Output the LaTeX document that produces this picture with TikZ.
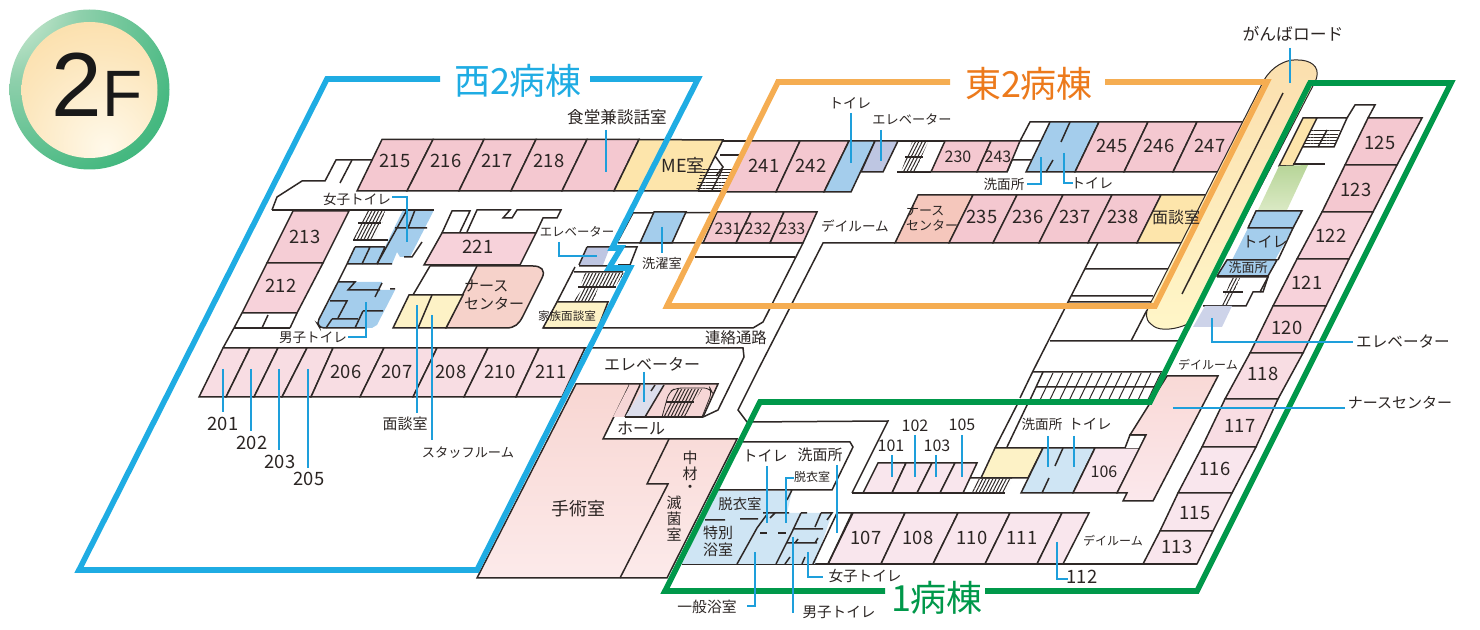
\documentclass[tikz,border=0pt]{standalone}
\usepackage{fontspec}
\setmainfont{Noto Sans CJK JP}
\newfontfamily\bdgf{Liberation Sans}
\usetikzlibrary{patterns.meta}
\definecolor{txt}{HTML}{2B2523}
\definecolor{linec}{HTML}{2E2826}
\definecolor{wblue}{HTML}{1FACE3}
\definecolor{lead}{HTML}{1E9FDB}
\definecolor{orangef}{HTML}{F5AD52}
\definecolor{oranget}{HTML}{EC7A1C}
\definecolor{greenf}{HTML}{00984A}
\definecolor{pinkA}{HTML}{F4C8D0}
\definecolor{pinkB}{HTML}{F7D2DA}
\definecolor{pinkC}{HTML}{F8DDE3}
\definecolor{pinkD}{HTML}{F9E6ED}
\definecolor{yel}{HTML}{FDE5AB}
\definecolor{yelL}{HTML}{FDF2C6}
\definecolor{blue}{HTML}{A4CDEC}
\definecolor{blueL}{HTML}{CFE5F4}
\definecolor{purp}{HTML}{BEC6E2}
\definecolor{purpL}{HTML}{DCDEEC}
\definecolor{nurseW}{HTML}{F6D2CA}
\definecolor{nurseE}{HTML}{F5C7BC}
\definecolor{surgA}{HTML}{F8D6D2}
\definecolor{surgB}{HTML}{FCEAEA}
\definecolor{nOneA}{HTML}{F9D9D6}
\definecolor{nOneB}{HTML}{FBE8EC}
\definecolor{stairP}{HTML}{F6D6D6}
\definecolor{grA}{HTML}{B7D598}
\definecolor{grB}{HTML}{DAE9C4}
\definecolor{elevL}{HTML}{CDD3E9}
\definecolor{roadA}{HTML}{FBDFAE}
\definecolor{roadB}{HTML}{FFF6C8}
\definecolor{bOutA}{HTML}{EEF7E6}
\definecolor{bOutB}{HTML}{8FD0AC}
\definecolor{bOutC}{HTML}{45B880}
\definecolor{bOutD}{HTML}{00A65C}
\definecolor{bInA}{HTML}{FFF9EA}
\definecolor{bInB}{HTML}{FCE6BC}
\definecolor{bInC}{HTML}{FAD592}
\pgfdeclareradialshading{badgeout}{\pgfpoint{-30bp}{30bp}}{color(0bp)=(bOutA);color(22bp)=(bOutB);color(50bp)=(bOutC);color(95bp)=(bOutD);color(140bp)=(bOutD)}
\pgfdeclareradialshading{badgein}{\pgfpoint{6bp}{-22bp}}{color(0bp)=(bInA);color(30bp)=(bInB);color(62bp)=(bInC);color(120bp)=(bInC)}
\tikzset{
  lb/.style={inner sep=0pt,text=txt,font=\fontsize{#1}{#1}\selectfont},
  num/.style={lb=9.2},
  rm/.style={draw=linec,line width=.75pt,line join=miter},
  ln/.style={draw=linec,line width=.75pt},
  ld/.style={draw=lead,line width=.65pt},
  frame/.style={line width=2.8pt,line join=miter},
  hatchv/.style={draw=none,pattern={Lines[angle=63,distance=1.5pt,line width=.5pt]},pattern color=linec},
  hatchh/.style={draw=none,pattern={Lines[angle=0,distance=1.6pt,line width=.45pt]},pattern color=linec},
}
\begin{document}
\begin{tikzpicture}[x=.5pt,y=-.5pt]
\useasboundingbox (0,0) rectangle (1480,630);
% ---- badge
\shade[shading=badgeout] (89.5,89.5) circle (80);
\shade[shading=badgein] (89.5,90) circle (68);
\node[inner sep=0pt,text=black!90,font=\bdgf\fontsize{45.5}{45.5}\selectfont] (badge2) at (77,85) {2};
\node[inner sep=0pt,text=black!90,font=\bdgf\fontsize{32.8}{32.8}\selectfont] (badgeF) at (122.5,93.5) {F};
% ---- west wing outline
\draw[ln,line join=miter] (223,348)--(234,328);
\draw[ln] (272,210)--(277,197)--(302,181)--(325,181)--(336,160)--(372,160);
\draw[ln] (352,160)--(340,183);
\draw[ln] (272,210)--(403,210);
\draw[ln] (223,348)--(743,348)--(744,357)--(718,410)--(703,417)--(625,417);
\draw[ln] (234,328)--(290,328);
\draw[ln] (268,315)--(262,328);
\draw[ln] (242,313)--(234,328) (297,313)--(290,328);
% upper row
\foreach \a/\b/\c/\d in {382/433/407/357,433/484/459/407,484/536/511/459,536/587/562/511,587/639/614/562}
  \draw[rm,fill=pinkA] (\a,139.5)--(\b,139.5)--(\c,191)--(\d,191)--cycle;
\draw[rm,fill=yel] (639,139.5)--(723,140)--(698,191)--(614,191)--cycle;
% left column
\draw[rm,fill=pinkA!75!pinkC] (293,211)--(349,211)--(323,263)--(267,263)--cycle;
\draw[rm,fill=pinkB] (267,263)--(323,263)--(297,313)--(242,313)--cycle;
% lower row
\foreach \a/\b/\c/\d in {223/250/226/199,250/278/254/226,278/307/282/254,307/333/311/282,333/384/360/311,384/437/413/360,437/488/464/413,488/539/516/464,539/585/562/516}
  \draw[rm,fill=pinkC] (\a,348)--(\b,348)--(\c,397)--(\d,397)--cycle;
% women's toilet block
\path[fill=blue] (403,210)--(434,210)--(410,257)--(400,257)--(397,252)--(392,264)--(347,264)--(355,247)--(385,247)--cycle;
\path[hatchv] (367,211)--(385,211)--(382,223)--(360,223)--cycle;
\path[hatchv] (360,224)--(381,224)--(373,240)--(353,240)--cycle;
\draw[ln] (358,223)--(381,223) (353,240)--(388,240);
\draw[ln] (403,210)--(434,210);
\draw[ln] (407,210)--(377,264);
\draw[ln] (415,210)--(408,228) (395,228)--(427,228) (422,242)--(412,257)--(404,257);
\draw[ln] (355,247)--(385,247) (370,247)--(362,264) (385,247)--(377,264);
\draw[ln] (347,264)--(392,264) (347,264)--(355,247) (347,264)--(338,282);
% men's toilet block
\path[fill=blue] (338,282)--(382,282)--(378,290)--(395,290)--(377,325)--(372,328)--(320,328)--(317,323)--cycle;
\draw[ln] (338,282)--(355,282)--(348,290)--(380,290) (382,283)--(375,297) (390,289)--(395,289);
\draw[ln] (330,301)--(347,301)--(338,318) (332,319)--(358,319);
\draw[ln] (332,319)--(326,328);
\draw[ln] (363,311)--(383,311) (363,311)--(355,328);
\draw[ln,rounded corners=2pt] (338,282)--(317,323)--(320,328)--(365,328);
% centre block
\draw[ln] (442,233)--(452,211)--(470,211)--(460,232);
\draw[ln] (467,232)--(477,210)--(510,210)--(503,218)--(512,218)--(517,210)--(561,210)--(557,218)--(543,218)--(536,233);
\draw[rm,fill=pinkB] (442,233)--(536,233)--(520,265)--(424,265)--cycle;
\draw[rm,fill=nurseW] (477,266)--(533,266) .. controls (541,266) and (546,270) .. (542,278) -- (523,316) .. controls (519,324) and (515,328) .. (506,328)--(446,328)--cycle;
\draw[ln] (430,266)--(477,266) (430,266)--(413,295);
\draw[rm,fill=yelL] (409,295)--(463,295)--(446,328)--(393,328)--cycle;
\draw[ln] (432,295)--(418,328);
% west elevator, stairs, family room
\path[fill=purp] (587,247)--(610,247)--(603,265)--(579,265)--cycle;
\draw[ln] (587,247)--(637,247)--(630,265)--(618,265) (579,265)--(587,247);
\draw[ln] (579,266)--(632,266) (575,267)--(557,302) (574,272)--(623,272);
\path[hatchv] (585,273)--(624,273)--(615,287)--(580,287)--cycle;
\path[hatchv] (583,288)--(598,288)--(593,302)--(573,302)--cycle;
\draw[ln] (578,287)--(616,287);
\draw[rm,fill=yelL] (557,302)--(608,302)--(598,328)--(543,328)--cycle;
\draw[ln] (543,328)--(753,328)--(763,322)--(803,243);
\draw[ln] (618,241)--(633,213)--(817,212) (618,243)--(803,243);
\draw[rm,fill=blue] (654,212)--(686,212)--(672,243)--(640,243)--cycle;
\foreach \a/\b/\c/\d in {717/751/736/703,751/784/770/736,784/817/803/770}
  \draw[rm,fill=pinkA] (\a,212)--(\b,212)--(\c,243)--(\d,243)--cycle;
\draw[ln] (695,257)--(795,257);
% ---- east wing rooms
\draw[ln] (723,141)--(753,141) (720,155)--(742,155) (698,191)--(730,191);
\draw[ln] (715,156)--(723,167)--(716,176);
\path[hatchh] (702,168)--(733,168)--(722,190)--(696,190)--cycle;
\draw[ln] (722,170)--(712,190);
\foreach \a/\b/\c/\d in {750/800/776/725,800/849/824/776}
  \draw[rm,fill=pinkA] (\a,141)--(\b,141)--(\c,192)--(\d,192)--cycle;
\draw[rm,fill=blue] (849,141)--(875,141)--(851,192)--(824,192)--cycle;
\draw[rm,fill=purp] (875,141)--(898,141)--(883,172)--(861,172)--cycle;
\draw[ln] (898,141)--(945,141) (897,172)--(931,172);
\path[hatchv] (912,142)--(928,142)--(915,172)--(901,172)--cycle;
\draw[ln] (905,157)--(923,157);
\foreach \a/\b/\c/\d in {945/991/977/931,991/1020/1007/977}
  \draw[rm,fill=pinkA] (\a,141)--(\b,141)--(\c,172)--(\d,172)--cycle;
\draw[ln] (1020,141)--(1041,141) (1012,160)--(1033,160) (1020,141)--(1030,122)--(1050,122) (1007,172)--(1012,160);
\draw[rm,fill=blue] (1050,122)--(1099,122)--(1075,172)--(1026,172)--cycle;
\draw[ln] (1070,122)--(1061,142) (1053,160)--(1046,172);
\foreach \a/\b/\c/\d in {1099/1148/1124/1075,1148/1197/1173/1124,1197/1247/1220/1173}
  \draw[rm,fill=pinkA] (\a,122)--(\b,122)--(\c,172)--(\d,172)--cycle;
\draw[rm,fill=nurseE] (918,195)--(973,195)--(949,243)--(895,243)--cycle;
\foreach \a/\b/\c/\d in {973/1017/993/949,1017/1063/1039/993,1063/1112/1088/1039,1112/1161/1137/1088}
  \draw[rm,fill=pinkA] (\a,195)--(\b,195)--(\c,243)--(\d,243)--cycle;
\draw[rm,fill=yel] (1161,195)--(1210,195)--(1186,243)--(1137,243)--cycle;
\draw[ln] (758,370)--(823,243)--(895,243);
\draw[ln] (758,370)--(738,410)--(747,422)--(888,421)--(852,493);
% lobby structure to the east
\draw[ln] (1098,243)--(1033,371)--(1020,398) (1085,269)--(1168,269) (1072,296)--(1153,296) (1068,302)--(1153,302);
\draw[ln] (1050,341)--(1183,341) (1147,310)--(1131,341) (1033,372)--(1162,372);
\draw[ln] (1043,372)--(1030,400) (1036,387)--(1155,387);
\foreach \i in {0,...,11} \draw[ln,line width=.5pt] ({1053+\i*9.8},373)--({1040+\i*9.8},400);
\draw[ln] (1028,403)--(1007,447) (1018,403)--(995,448);
% ---- 1 wing middle rooms
\draw[rm,fill=yelL] (995,448)--(1043,448)--(1028,478)--(981,478)--cycle;
\draw[ln] (966,478)--(1012,478) (966,478)--(960,493);
\path[hatchv] (977,479)--(1012,479)--(1005,493)--(972,493)--cycle;
\draw[rm,fill=blueL] (1043,448)--(1095,448)--(1073,493)--(1021,493)--cycle;
\draw[ln] (1063,448)--(1055,466) (1049,478)--(1042,493);
\draw[rm,fill=pinkD] (1095,448)--(1140,448)--(1117,493)--(1073,493)--cycle;
\draw[rm,fill=white] (1125,448)--(1130,435)--(1146,435)--(1140,448);
\draw[rm,top color=nOneA,bottom color=nOneB] (1167,376)--(1218,376)--(1153,501)--(1123,501)--(1127,493)--(1117,493)--(1146,435)--(1130,435)--cycle;
\foreach \a/\b/\c/\d in {878/906/892/863,906/932/917/892,932/955/940/917,955/977/963/940}
  \draw[rm,fill=pinkD] (\a,463)--(\b,463)--(\c,493)--(\d,493)--cycle;
\draw[ln] (852,493)--(1005,493);
% lower row
\foreach \a/\b/\c/\d in {853/905/881/828,905/958/933/881,958/1010/985/933,1010/1062/1037/985,1062/1089/1063/1037}
  \draw[rm,fill=pinkD] (\a,513)--(\b,513)--(\c,564)--(\d,564)--cycle;
\draw[ln] (682,564)--(1197,564);
% bath area
\path[fill=blueL] (718,491)--(792,491)--(787,513)--(832,513)--(815,564)--(682,564)--cycle;
\draw[ln] (743,442)--(850,442)--(853,447)--(832,490)--(790,490)--(718,490) (792,490)--(787,500);
\draw[ln] (705,520)--(725,520) (740,519)--(758,519) (763,513)--(789,513) (775,513)--(770,518) (768,513)--(757,528)--(737,564);
\draw[ln] (760,533)--(767,533) (778,533)--(786,533);
\draw[ln] (801,513)--(792,532)--(776,564) (801,513)--(807,513) (793,529)--(823,529) (821,513)--(815,527) (821,513)--(832,513)--(827,520);
\draw[ln] (787,543)--(817,543) (818,538)--(815,543) (798,539)--(795,543) (790,557)--(785,564) (805,557)--(802,564);
\draw[ln] (852,513)--(828,564) (837,513)--(813,564) (837,513)--(853,513);
% ---- surgery
\draw[rm,top color=surgA,bottom color=surgB] (576,384)--(630,384)--(603,439)--(737,439)--(667,578)--(477,578)--cycle;
\draw[ln] (669,439)--(647,484)--(668,484)--(620,578);
\path[fill=stairP] (630,384)--(718,384)--(703,417)--(613,417)--cycle;
\draw[ln] (630,384)--(718,384)--(703,417) (640,385)--(625,417);
\path[fill=purpL] (645,385)--(664,385)--(645,417)--(625,417)--cycle;
\draw[ln] (664,385)--(645,417) (655,385)--(651,391);
\draw[ln,rounded corners=3pt,line width=.4pt] (662,417)--(669,392)--(676,388)--(710,388)--(712,392)--(702,417);
\path[hatchv] (676,389)--(702,389)--(685,417)--(663,417)--cycle;
\draw[ln] (666,402)--(694,402);
\draw[ln] (625,417)--(703,417);
% ---- right column of wing 1
\draw[rm,fill=pinkA] (1368,118)--(1422,118)--(1397,165)--(1345,165)--cycle;
\draw[rm,fill=pinkA] (1345,165)--(1397,165)--(1373,212)--(1322,212)--cycle;
\draw[rm,fill=pinkB] (1322,212)--(1373,212)--(1349,259)--(1297,259)--cycle;
\draw[rm,fill=pinkB] (1297,259)--(1349,259)--(1326,306)--(1273,306)--cycle;
\draw[rm,fill=pinkB] (1273,306)--(1326,306)--(1303,353)--(1250,353)--cycle;
\draw[rm,fill=pinkC] (1250,353)--(1303,353)--(1278,399)--(1225,399)--cycle;
\draw[rm,fill=pinkC] (1225,399)--(1278,399)--(1256,447)--(1202,447)--cycle;
\draw[rm,fill=pinkD] (1202,447)--(1256,447)--(1232,493)--(1178,493)--cycle;
\draw[rm,fill=pinkD] (1178,493)--(1232,493)--(1213,531)--(1160,531)--cycle;
\draw[rm,fill=pinkD] (1160,531)--(1213,531)--(1197,564)--(1143,564)--cycle;
% service core of wing 1
\draw[ln] (1347,118)--(1355,105)--(1375,105)--(1368,118);
\draw[ln] (1317,118)--(1347,118)--(1334,147)--(1303,147);
\path[hatchh] (1306,130)--(1340,130)--(1334,147)--(1302,147)--cycle;
\draw[ln] (1327,130)--(1318,147);
\draw[rm,fill=yel] (1303,118)--(1317,118)--(1293,166)--(1279,166)--cycle;
\draw[ln] (1293,164)--(1325,164);
\path[top color=grA,bottom color=grB] (1279,166)--(1308,165)--(1287,210)--(1258,210)--cycle;
\draw[rm,fill=blue] (1256,211)--(1302,211)--(1293,228)--(1248,228)--cycle;
\path[fill=blue] (1248,228)--(1293,228)--(1275,260)--(1232,260)--cycle;
\draw[ln] (1248,228)--(1293,228)--(1278,260);
\draw[rm,fill=blue] (1227,260)--(1277,260)--(1268,276)--(1217,276)--cycle;
\draw[ln] (1217,277)--(1268,277)--(1263,292)--(1253,292)--(1246,306)--(1203,306);
\draw[ln] (1268,277)--(1260,292);
\path[hatchv] (1232,278)--(1240,278)--(1228,305)--(1221,305)--cycle;
\draw[ln] (1223,292)--(1243,292);
\path[fill=elevL] (1205,306)--(1232,306)--(1222,327)--(1193,327)--cycle;
% ---- gambaroad
\draw[line width=.5pt,draw=linec,top color=roadA,bottom color=roadB,rounded corners=1pt] (1263,82) .. controls (1272,66) and (1286,60) .. (1296,60) .. controls (1310,60) and (1320,66) .. (1316,80) -- (1190,323) .. controls (1175,330) and (1160,331) .. (1152,325) .. controls (1145,319) and (1146,312) .. (1149,306) -- cycle;
\draw[ln] (1283,93)--(1182,294);
% ---- frames
\draw[frame,draw=wblue] (440,79)--(327,79)--(79,570)--(477,570)--(630,268)--(609,268)--(621,248)--(612,248)--(698,79)--(590,79);
\draw[frame,draw=orangef] (950,82)--(778,82)--(667,306)--(1155,306)--(1267,82)--(1105,82);
\draw[frame,draw=greenf] (885,591)--(665,591)--(760,402)--(1150,402)--(1310,83)--(1451,83)--(1197,591)--(985,591);
% ---- leaders
\draw[ld] (606,130)--(606,172);
\draw[ld] (392,197)--(407,197)--(407,242);
\draw[ld] (348,337)--(366,337)--(366,302);
\draw[ld] (223,369)--(223,412) (251,369)--(251,431) (279,369)--(279,450) (308,369)--(308,468);
\draw[ld] (417,305)--(417,413) (432,315)--(432,440);
\draw[ld] (559,242)--(559,256)--(597,256);
\draw[ld] (662,227)--(662,253);
\draw[ld] (851,113)--(851,163);
\draw[ld] (881,130)--(881,161);
\draw[ld] (1027,184)--(1041,184)--(1041,157);
\draw[ld] (1064,153)--(1064,183)--(1073,183);
\draw[ld] (1290,48)--(1290,83);
\draw[ld] (1212,318)--(1212,342)--(1353,342);
\draw[ld] (1173,408)--(1345,408);
\draw[ld] (892,455)--(892,477) (915,435)--(915,477) (936,455)--(936,477) (962,435)--(962,477);
\draw[ld] (1048,436)--(1048,467) (1074,436)--(1074,467);
\draw[ld] (1057,542)--(1057,579)--(1068,579);
\draw[ld] (644,372)--(644,402);
\draw[ld] (767,466)--(767,523);
\draw[ld] (794,478)--(786,478)--(786,523);
\draw[ld] (837,465)--(837,533);
\draw[ld] (747,606)--(755,606)--(755,552);
\draw[ld] (793,537)--(793,613);
\draw[ld] (808,552)--(808,577)--(823,577);
% ---- titles
\node[inner sep=0pt,text=wblue,font=\fontsize{18}{18}\selectfont] (west) at (518,81) {西2病棟};
\node[inner sep=0pt,text=oranget,font=\fontsize{18}{18}\selectfont] (east) at (1029,84) {東2病棟};
\node[inner sep=0pt,text=greenf,font=\fontsize{18}{18}\selectfont] (one) at (937,598) {1病棟};
% ---- room numbers
\foreach \n/\x/\y in {215/395/161,216/446/161,217/497/161,218/549/161,241/764/166,242/811/166,235/982/217,236/1028/217,237/1075/217,238/1123/217,245/1112/146,246/1159/146,247/1210/146,213/305/237,212/281/286,221/478/247,206/346/372,207/397/372,208/451/372,210/500/372,211/551/372,125/1380/143,123/1356/190,122/1331/236,121/1307/283,120/1287/328,118/1263/374,117/1240/426,116/1215/469,115/1195/513,113/1177/547,107/866/538,108/918/538,110/972/538,111/1022/538,112/1082/577,201/223/424,202/252/443,203/280/462,205/309/479}
  \node[num] (r\n) at (\x,\y) {\n};
\foreach \n/\x/\y in {230/958/157,243/998/157,231/728/229,232/758/229,233/792/229,106/1104/472,101/891/446,102/915/426,103/937/446,105/962/425}
  \node[lb=8] (r\n) at (\x,\y) {\n};
% ---- labels
\node[lb=9] (me) at (683,165) {ME室};
\node[lb=8.3] (shokudo) at (617,117) {食堂兼談話室};
\node[lb=6.8] (wtoiletW) at (357,199) {女子トイレ};
\node[lb=6.8] (mtoiletW) at (313,338) {男子トイレ};
\node[lb=6.2] (elevW) at (577,232) {エレベーター};
\node[lb=5.8] (famroom) at (567,316) {家族面談室};
\node[lb=7.5,align=left] (nsW) at (494,295) {ナース\\[1.5pt]センター};
\node[lb=7.5] (mendanW) at (405,424) {面談室};
\node[lb=6.6] (staff) at (468,453) {スタッフルーム};
\node[lb=6.6] (laundry) at (662,263) {洗濯室};
\node[lb=7] (toiletE) at (850,103) {トイレ};
\node[lb=6.6] (elevE) at (912,119) {エレベーター};
\node[lb=6.8] (washE) at (1004,184) {洗面所};
\node[lb=7] (toiletE2) at (1092,183) {トイレ};
\node[lb=6.8] (dayE) at (855,226) {デイルーム};
\node[lb=6.5,align=left] (nsE) at (932,218) {ナース\\[1pt]センター};
\node[lb=8] (mendanE) at (1176,217) {面談室};
\node[lb=7.7] (renraku) at (736,338) {連絡通路};
\node[lb=8.4] (ganba) at (1293,34) {がんばロード};
\node[lb=8] (elevH) at (652,364) {エレベーター};
\node[lb=8] (hall) at (641,428) {ホール};
\node[lb=9] (surg) at (578,509) {手術室};
\node[lb=7.5] (c1) at (690,458) {中};
\node[lb=7.5] (c2) at (690,474) {材};
\node[lb=7.5] (c3) at (690,489) {・};
\node[lb=7.5] (c4) at (674,503) {滅};
\node[lb=7.5] (c5) at (674,519) {菌};
\node[lb=7.5] (c6) at (674,535) {室};
\node[lb=7.5] (toiletB) at (765,456) {トイレ};
\node[lb=7.5] (washB) at (820,455) {洗面所};
\node[lb=6] (datsu1) at (812,477) {脱衣室};
\node[lb=7.2] (datsu2) at (740,504) {脱衣室};
\node[lb=7.5,align=left] (tokubetsu) at (718,541) {特別\\[1pt]浴室};
\node[lb=7.3] (wtoilet1) at (865,576) {女子トイレ};
\node[lb=7.3] (mtoilet1) at (839,612) {男子トイレ};
\node[lb=7.4] (ippan) at (707,607) {一般浴室};
\node[lb=6.8] (wash1) at (1042,424) {洗面所};
\node[lb=7.2] (toilet1) at (1090,424) {トイレ};
\node[lb=6] (day1a) at (1208,365) {デイルーム};
\node[lb=6] (day1b) at (1113,541) {デイルーム};
\node[lb=7.5] (toiletR) at (1265,242) {トイレ};
\node[lb=6.5] (washR) at (1248,268) {洗面所};
\node[lb=7.8] (elevR) at (1403,341) {エレベーター};
\node[lb=7.5] (nsR) at (1400,403) {ナースセンター};
\end{tikzpicture}
\end{document}
